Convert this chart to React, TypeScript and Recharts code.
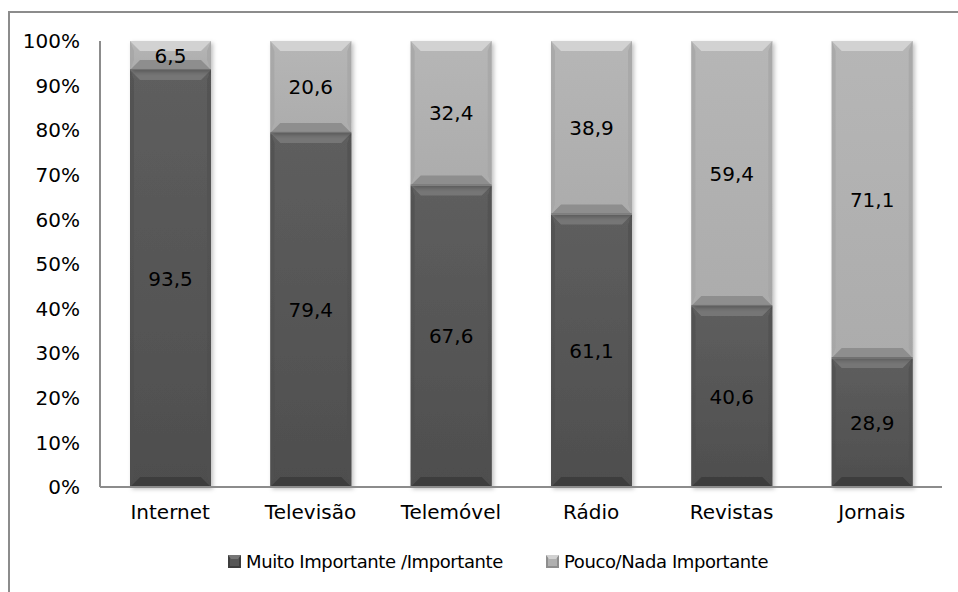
import { BarChart, Bar, XAxis, YAxis, LabelList } from 'recharts';

const categories = ['Internet', 'Televisão', 'Telemóvel', 'Rádio', 'Revistas', 'Jornais'];
const importante = [93.5, 79.4, 67.6, 61.1, 40.6, 28.9];
const poucoNada = [6.5, 20.6, 32.4, 38.9, 59.4, 71.1];
const yTicks = [0, 10, 20, 30, 40, 50, 60, 70, 80, 90, 100];

const seriesNames = ['Muito Importante /Importante', 'Pouco/Nada Importante'];

const chartData = categories.map((name, i) => ({
  name,
  importante: importante[i],
  pouco: poucoNada[i],
}));

const FONT = '"DejaVu Sans", sans-serif';

const palettes = {
  dark: { base: '#575757', baseTop: '#5e5e5e', baseBottom: '#4e4e4e', top: '#767676', bottom: '#3e3e3e', side: '#505050' },
  light: { base: '#b0b0b0', baseTop: '#b6b6b6', baseBottom: '#acacac', top: '#d2d2d2', bottom: '#8e8e8e', side: '#a4a4a4' },
};

const BevelBar = (props: any) => {
  const { x, y, width, height, tone } = props;
  if (!height || height <= 0) return null;
  const p = palettes[tone as 'dark' | 'light'];
  const b = Math.min(10, height / 2);
  const s = Math.min(4, width / 4);
  const gid = `grad-${tone}`;
  return (
    <g filter="url(#barShadow)">
      <defs>
        <linearGradient id={gid} x1="0" y1="0" x2="0" y2="1">
          <stop offset="0%" stopColor={p.baseTop} />
          <stop offset="100%" stopColor={p.baseBottom} />
        </linearGradient>
        <filter id="barShadow" x="-10%" y="-10%" width="130%" height="130%">
          <feDropShadow dx="2" dy="2" stdDeviation="2" floodColor="#000" floodOpacity="0.25" />
        </filter>
      </defs>
      <rect x={x} y={y} width={width} height={height} fill={`url(#${gid})`} />
      <polygon
        points={`${x},${y} ${x + width},${y} ${x + width - b},${y + b} ${x + b},${y + b}`}
        fill={p.top}
      />
      <polygon
        points={`${x},${y + height} ${x + width},${y + height} ${x + width - b},${y + height - b} ${x + b},${y + height - b}`}
        fill={p.bottom}
      />
      <polygon
        points={`${x},${y} ${x + s},${y + b} ${x + s},${y + height - b} ${x},${y + height}`}
        fill={p.side}
        opacity={0.7}
      />
      <polygon
        points={`${x + width},${y} ${x + width - s},${y + b} ${x + width - s},${y + height - b} ${x + width},${y + height}`}
        fill={p.side}
        opacity={0.7}
      />
      <line x1={x} y1={y + height - 0.5} x2={x + width} y2={y + height - 0.5} stroke={tone === 'dark' ? '#333' : '#6f6f6f'} strokeWidth={1} />
    </g>
  );
};

const LegendIcon = ({ tone }: { tone: 'dark' | 'light' }) => {
  const p = palettes[tone];
  return (
    <svg width={13} height={13} style={{ marginRight: 5 }}>
      <rect x={0} y={0} width={13} height={13} fill={p.bottom} />
      <rect x={2} y={2} width={9} height={9} fill={p.base} />
      <polygon points="0,0 13,0 10,4 3,4" fill={p.top} />
    </svg>
  );
};

const legendItem = (tone: 'dark' | 'light', label: string, left: number) => (
  <div
    style={{
      position: 'absolute',
      left,
      top: 551,
      display: 'flex',
      alignItems: 'center',
      fontFamily: FONT,
      fontSize: 18,
      letterSpacing: -0.4,
      color: '#000',
      whiteSpace: 'nowrap',
    }}
  >
    <LegendIcon tone={tone} />
    <span>{label}</span>
  </div>
);

const fmt = (v: any) => String(v).replace('.', ',');

const App = () => {
  return (
    <div style={{ position: 'absolute', left: 0, top: 0, width: 958, height: 592, overflow: 'hidden', background: '#fff' }}>
      <div
        style={{
          position: 'absolute',
          left: 8,
          top: 11,
          width: 1000,
          height: 700,
          borderLeft: '2px solid #8c8c8c',
          borderTop: '2px solid #8c8c8c',
        }}
      />
      <div style={{ position: 'absolute', left: 0, top: 0 }}>
        <BarChart
          width={958}
          height={592}
          data={chartData}
          margin={{ top: 41, right: 16, left: 0, bottom: 75 }}
          barSize={81}
        >
          <XAxis
            dataKey="name"
            height={30}
            tickLine={false}
            axisLine={{ stroke: '#8c8c8c', strokeWidth: 2 }}
            tick={{ fontSize: 20, fill: '#000', fontFamily: FONT }}
            tickMargin={12}
            interval={0}
          />
          <YAxis
            width={100}
            domain={[0, 100]}
            ticks={yTicks}
            interval={0}
            tickFormatter={(v: number) => `${v}%`}
            tickLine={false}
            tickSize={0}
            tickMargin={20}
            axisLine={{ stroke: '#8c8c8c', strokeWidth: 2 }}
            tick={{ fontSize: 20, fill: '#000', fontFamily: FONT }}
          />
          <Bar
            dataKey="importante"
            stackId="a"
            name={seriesNames[0]}
            isAnimationActive={false}
            shape={(props: any) => <BevelBar {...props} tone="dark" />}
          >
            <LabelList dataKey="importante" position="center" formatter={fmt} style={{ fontSize: 20, fill: '#000', fontFamily: FONT }} />
          </Bar>
          <Bar
            dataKey="pouco"
            stackId="a"
            name={seriesNames[1]}
            isAnimationActive={false}
            shape={(props: any) => <BevelBar {...props} tone="light" />}
          >
            <LabelList dataKey="pouco" position="center" formatter={fmt} style={{ fontSize: 20, fill: '#000', fontFamily: FONT }} />
          </Bar>
        </BarChart>
      </div>
      {legendItem('dark', seriesNames[0], 228)}
      {legendItem('light', seriesNames[1], 546)}
    </div>
  );
};

export default App;
